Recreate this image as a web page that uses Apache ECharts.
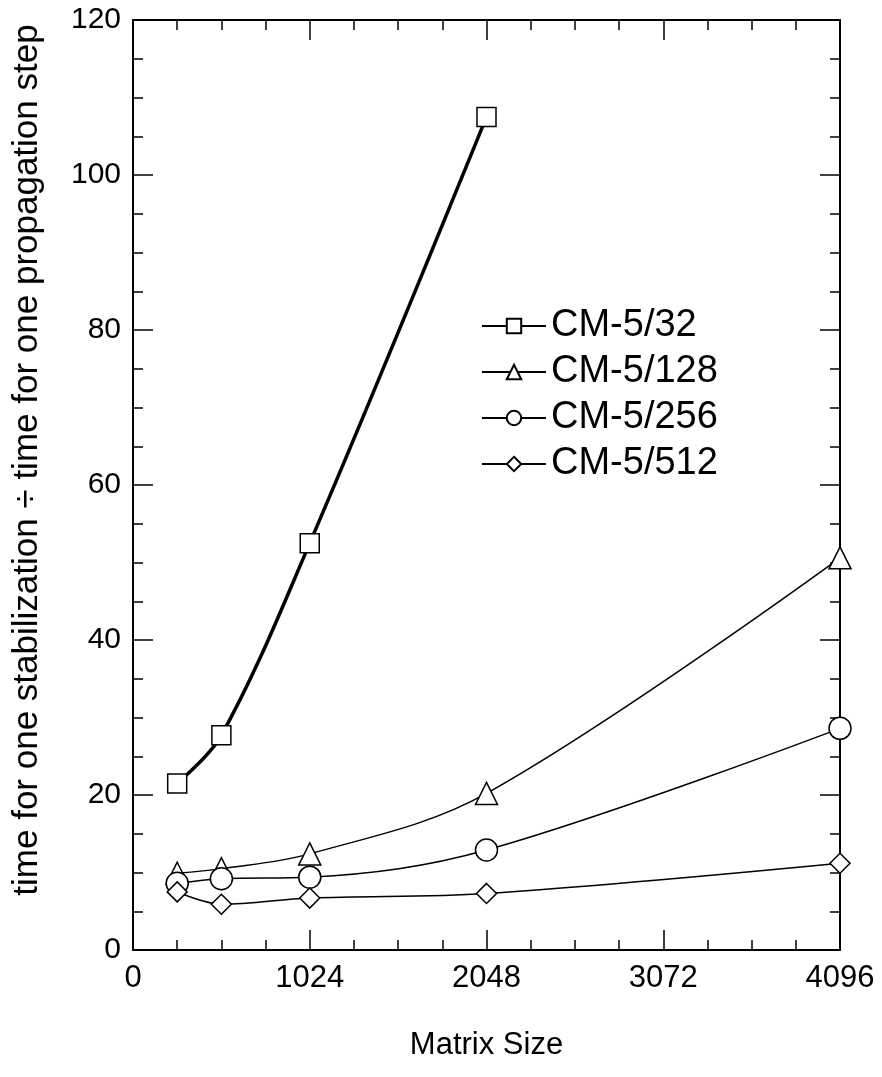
<!DOCTYPE html>
<html>
<head>
<meta charset="utf-8">
<script src="https://cdn.jsdelivr.net/npm/echarts@6/dist/echarts.min.js"></script>
<style>
  html, body { margin: 0; padding: 0; background: #fff; }
  #chart { width: 882px; height: 1077px; }
</style>
</head>
<body>
<div id="chart"></div>
<script>
// matrix sizes (x) and stabilization/propagation time ratio (y)
var sizes32 = [256, 512, 1024, 2048];
var cm32 = [21.5, 27.7, 52.5, 107.5];
var sizes = [256, 512, 1024, 2048, 4096];
var cm128 = [9.9, 10.5, 12.4, 20.2, 50.6];
var cm256 = [8.6, 9.2, 9.4, 12.9, 28.6];
var cm512 = [7.5, 5.9, 6.7, 7.3, 11.2];
var seriesNames = ['CM-5/32', 'CM-5/128', 'CM-5/256', 'CM-5/512'];

function pairs(xs, ys){
  var out = [];
  for(var i=0;i<xs.length;i++){
    out.push([xs[i], ys[i]]);
  }
  return out;
}

var font = 'Liberation Sans, Arial, Helvetica, sans-serif';

function makeSeries(name, data, symbol, size, width){
  return {
    name: name,
    type: 'line',
    data: data,
    smooth: 0.35,
    clip: false,
    symbol: symbol,
    symbolSize: size,
    showAllSymbol: true,
    lineStyle: {color: '#000', width: width},
    itemStyle: {color: '#fff', borderColor: '#000', borderWidth: 1.5},
    emphasis: {disabled: true},
    z: 3
  };
}

function plain(v){ return '' + v; }

var myChart = echarts.init(document.getElementById('chart'), null, {renderer: 'canvas'});
var option = {
  animation: false,
  backgroundColor: '#fff',
  grid: {left: 133, right: 42, top: 20, bottom: 127, containLabel: false},
  legend: {
    orient: 'vertical',
    left: 476,
    top: 302,
    itemWidth: 64,
    itemHeight: 18,
    itemGap: 8,
    data: seriesNames,
    textStyle: {fontSize: 38, color: '#000', fontFamily: font}
  },
  xAxis: [
    {
      type: 'value',
      min: 0, max: 4096, interval: 1024,
      name: 'Matrix Size',
      nameLocation: 'middle',
      nameGap: 80,
      nameTextStyle: {fontSize: 31, color: '#000', fontFamily: font},
      axisLine: {show: true, onZero: false, lineStyle: {color: '#000', width: 2}},
      axisTick: {inside: true, length: 20, lineStyle: {color: '#000', width: 1.5}},
      minorTick: {show: true, splitNumber: 4, length: 10, lineStyle: {color: '#000', width: 1.5}},
      axisLabel: {fontSize: 31, color: '#000', fontFamily: font, margin: 13, formatter: plain},
      splitLine: {show: false}
    },
    {
      type: 'value', position: 'top',
      min: 0, max: 4096, interval: 1024,
      axisLine: {show: true, onZero: false, lineStyle: {color: '#000', width: 2}},
      axisTick: {inside: true, length: 20, lineStyle: {color: '#000', width: 1.5}},
      minorTick: {show: true, splitNumber: 4, length: 10, lineStyle: {color: '#000', width: 1.5}},
      axisLabel: {show: false},
      splitLine: {show: false}
    }
  ],
  yAxis: [
    {
      type: 'value',
      min: 0, max: 120, interval: 20,
      name: 'time for one stabilization \u00f7 time for one propagation step',
      nameLocation: 'middle',
      nameGap: 88,
      nameTextStyle: {fontSize: 35, color: '#000', fontFamily: font, padding: [0, 0, 0, 50]},
      axisLine: {show: true, onZero: false, lineStyle: {color: '#000', width: 2}},
      axisTick: {inside: true, length: 20, lineStyle: {color: '#000', width: 1.5}},
      minorTick: {show: true, splitNumber: 4, length: 10, lineStyle: {color: '#000', width: 1.5}},
      axisLabel: {fontSize: 30, color: '#000', fontFamily: font, margin: 12, formatter: plain},
      splitLine: {show: false}
    },
    {
      type: 'value', position: 'right',
      min: 0, max: 120, interval: 20,
      axisLine: {show: true, onZero: false, lineStyle: {color: '#000', width: 2}},
      axisTick: {inside: true, length: 20, lineStyle: {color: '#000', width: 1.5}},
      minorTick: {show: true, splitNumber: 4, length: 10, lineStyle: {color: '#000', width: 1.5}},
      axisLabel: {show: false},
      splitLine: {show: false}
    }
  ],
  series: [
    makeSeries('CM-5/32', pairs(sizes32, cm32), 'rect', 19, 3.5),
    makeSeries('CM-5/128', pairs(sizes, cm128), 'triangle', 22, 1.5),
    makeSeries('CM-5/256', pairs(sizes, cm256), 'circle', 22, 1.5),
    makeSeries('CM-5/512', pairs(sizes, cm512), 'diamond', 20, 1.5)
  ]
};
myChart.setOption(option);
</script>
</body>
</html>
